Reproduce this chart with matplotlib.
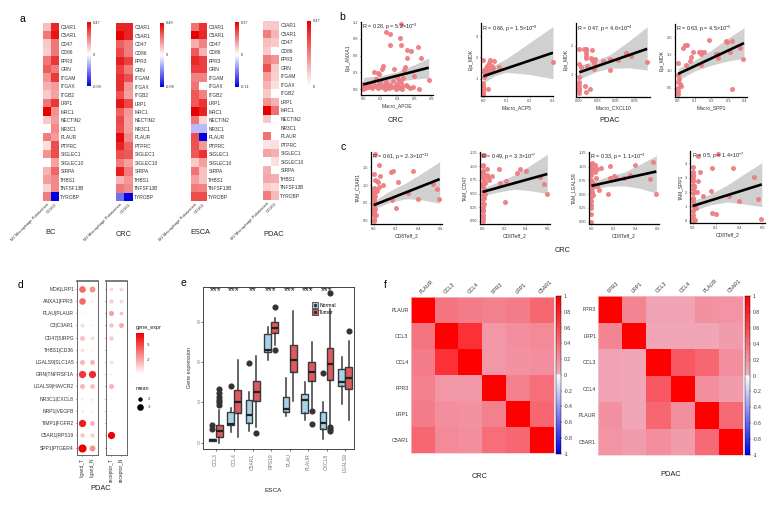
import numpy as np
import matplotlib
matplotlib.use('Agg')
import matplotlib.pyplot as plt
from matplotlib.colors import LinearSegmentedColormap, TwoSlopeNorm, Normalize
from matplotlib.lines import Line2D

plt.rcParams['font.family'] = ['Liberation Sans', 'DejaVu Sans']
plt.rcParams['mathtext.default'] = 'regular'

W, H = 772, 507
TXT = '#333333'
GREY = '#777777'

# ---- panel a ----
genes = ['C3AR1', 'C5AR1', 'CD47', 'CD86', 'FPR3', 'GRN', 'ITGAM', 'ITGAX', 'ITGB2', 'LRP1', 'MRC1',
         'NECTIN2', 'NR3C1', 'PLAUR', 'PTPRC', 'SIGLEC1', 'SIGLEC10', 'SIRPA', 'THBS1', 'TNFSF13B', 'TYROBP']
a_cols = ['M2 Macrophage Polarization', 'CD163']
bc_m2 = [.12, .25, .10, .09, .25, .30, .20, .15, .10, .25, .47, .10, 0, .24, .06, .20, 0, .14, .18, .08, .24]
bc_cd = [.40, .43, .25, .25, .37, .24, .36, .18, .17, .37, .20, .18, .22, .18, .33, .33, .17, .28, .22, .22, -.09]
crc_m2 = [.42, .49, .30, .35, .43, .36, .40, .40, .33, .45, .30, .35, .34, .47, .42, .34, .25, .43, .14, .26, -.05]
crc_cd = [.42, .42, .25, .25, .36, .25, .34, .20, .18, .35, .20, .18, .18, .22, .30, .32, .18, .25, .20, .22, -.09]
esca_m2 = [.20, .37, .12, .24, .31, .28, .18, .20, .24, .24, .37, .20, -.03, .26, .25, .24, .08, .20, .14, .19, .26]
esca_cd = [.30, .31, .18, .11, .28, .28, .18, 0, .18, .29, .32, .06, -.03, -.11, .15, .30, .14, .09, .09, .18, .26]
pdac_m2 = [.10, .24, .12, .10, .24, .32, .18, .14, .10, .20, .47, .10, 0, .26, .05, .17, 0, .15, .16, .09, .24]
pdac_cd = [.10, .14, .10, 0, .20, .10, .09, .06, 0, .15, .26, 0, 0, 0, .06, .15, .06, 0, .15, .07, .13]

# ---- panel b ----
b1_x = [.44, .27, .31, .43, .32, .44, .64, .52, .56, .68, .52, .23, .22, .36, .49, .48, .13, .17, .19, .77, .60, .40,
        .0, .0, .01, .02, .03, .05, .06, .08, .10, .12, .14, .15, .17, .19, .20, .22, .24, .25, .27, .29, .30, .32, .34,
        .35, .37, .38, .40, .41, .42, .43, .44, .45, .46, .47, .50, .52, .55, .58, .66]
b1_y = [1.16, 1.02, .99, .92, .79, .80, .75, .71, .69, .55, .55, .42, .37, .36, .40, .34, .31, .29, .27, .16, .23, .22,
        .00, .10, .05, .02, .08, .03, .10, .05, .02, .12, .06, .18, .02, .09, .14, .03, .07, .01, .12, .05, .02, .08, .03,
        .15, .06, .01, .10, .04, .16, .02, .12, .06, .01, .20, .08, .05, .02, .03, .00]
b1_line_x = [0, .77]
b1_line_y = [.084, .385]
b1_band_x = [0, .2, .4, .6, .77]
b1_hi = [.21, .24, .31, .44, .56]
b1_lo = [-.03, .06, .14, .18, .20]

b2_x = [0, .03, .047, .024, .014, .035, .004, .067, .3, .02, 0, 0, 0, 0, 0, 0, 0, 0, .004, .024, .01, .035, .043, .018, .005, .002, .012]
b2_y = [1.88, 1.88, 1.83, 1.72, 1.61, 1.61, 1.4, 1.56, 1.77, .5, .78, .68, .6, .52, .45, .38, .3, .23, 1.33, 1.48, 1.48, 1.4, 1.48, 1.25, 1.18, 1.1, 1.3]
b2_line_x = [0, .3]
b2_line_y = [1.12, 2.22]
b2_band_x = [0, .05, .1, .2, .3]
b2_hi = [1.5, 1.65, 1.95, 2.7, 3.45]
b2_lo = [.8, 1.15, 1.3, 1.2, 1.0]

b3_x = [0, .008, .011, .012, .022, .011, .012, .012, .019, .026, .021, .024, .013, .004, 0, .024, .039, .05, .05, .063, .076, .084, .11,
        .001, 0, 0, 0, 0, 0, .01, .018, .011]
b3_y = [1.88, 1.88, 1.88, 1.85, 1.85, 1.75, 1.65, 1.55, 1.58, 1.53, 1.5, 1.38, 1.28, 1.26, 1.35, 1.18, 1.47, 1.53, 1.14, 1.5, 1.74, 1.65, 1.42,
        .88, .72, .62, .52, .42, .32, .58, .47, .36]
b3_line_x = [.001, .11]
b3_line_y = [1.06, 1.89]
b3_band_x = [0, .03, .05, .08, .11]
b3_hi = [1.29, 1.5, 1.68, 2.15, 2.67]
b3_lo = [.81, 1.1, 1.2, 1.22, 1.14]

b4_x = [0, .03, .04, .055, .05, .07, .075, .09, .125, .135, .135, .157, .135, .183, .227, .24, .237, .29, .295, .325, .31, .37, .39, .326,
        0, .005, 0, .01, 0, .02, 0, 0]
b4_y = [1.25, 1.67, 1.77, 1.77, 1.17, 1.3, 1.42, 1.57, 1.55, 1.49, 1.57, 1.57, 1.19, 1.91, 1.5, 1.5, 1.4, 1.88, 1.87, 1.9, 1.57, 1.67, 1.35, .46,
        .88, .75, .68, .6, .5, .55, .4, .3]
b4_line_x = [0, .395]
b4_line_y = [.91, 1.83]
b4_band_x = [0, .1, .2, .3, .395]
b4_hi = [1.07, 1.32, 1.62, 1.98, 2.29]
b4_lo = [.72, 1.0, 1.17, 1.3, 1.37]

# ---- panel c ----
c1_x = [.015, .045, 0, .06, .01, .03, .04, .08, .045, .155, .17, .35, .22, .31, .53, .565, .59, .4, .165, .205, .03,
        0, 0, 0, 0, 0, 0, 0, 0, 0, .01, .005, .01, 0, .005, 0, .01, 0, .005, 0, .02, 0, 0]
c1_y = [1.87, 1.58, 1.3, 1.27, 1.14, 1.12, 1.1, 1.0, .95, 1.36, 1.39, 1.4, 1.1, .77, 1.03, .88, .62, .62, .58, .37, .83,
        .91, .85, .78, .72, .66, .6, .55, .5, .45, .88, .8, .7, .4, .36, .3, .33, .25, .2, .15, .17, .05, 0]
c1_line_x = [0, .593]
c1_line_y = [.44, 1.17]
c1_band_x = [0, .15, .3, .45, .593]
c1_hi = [.55, .85, 1.08, 1.37, 1.66]
c1_lo = [.33, .53, .62, .58, .49]

c2_x = [0, .01, 0, .005, .045, .155, .04, .05, .085, .06, .02, .165, .22, .315, .35, .405, .53, .57, .6, .21,
        0, 0, 0, 0, 0, 0, 0, 0, 0, .005, .01, .005, .01, .02, 0, 0, 0, .01, 0, 0, .015, .005]
c2_y = [1.21, 1.21, 1.02, 1.01, .96, .95, .85, .81, .82, .75, .7, .69, .74, .87, .96, .92, .8, .68, .49, .35,
        .92, .85, .78, .7, .62, .55, .48, .4, .33, .9, .75, .65, .58, .5, .25, .18, .1, .3, .05, 0, .42, .2]
c2_line_x = [0, .6]
c2_line_y = [.53, .86]
c2_band_x = [0, .15, .3, .45, .6]
c2_hi = [.6, .72, .85, 1.03, 1.22]
c2_lo = [.46, .53, .58, .55, .50]

c3_x = [.005, .03, .085, .05, .17, .4, .56, .53, .59, .35, .3, .205, .17, .22, .155, .065, .04, .03, .05,
        0, 0, 0, 0, 0, 0, 0, 0, 0, .01, .005, .01, .005, .01, 0, 0, 0, .015, 0, 0]
c3_y = [1.07, 1.02, .97, .95, 1.01, 1.03, 1.08, .77, .5, .85, .79, .83, .79, .79, .5, .58, .79, .91, .65,
        1.05, .98, .9, .84, .76, .68, .6, .52, .44, .95, .72, .62, .54, .48, .38, .3, .25, .68, .14, 0]
c3_line_x = [0, .59]
c3_line_y = [.65, .91]
c3_band_x = [0, .15, .3, .45, .59]
c3_hi = [.72, .82, .9, 1.05, 1.2]
c3_lo = [.59, .64, .65, .6, .515]

c4_x = [.045, .22, 0, .165, .35, .065, .525, .045, .015, .035, .085, .16, .31, .4, .565, .59, .165, .205, .03,
        0, 0, 0, 0, 0, 0, 0, 0, 0, 0, .005, .01, .005, .01, 0, 0, 0, .005, .015, .02]
c4_y = [4.5, 4.63, 3.77, 3.65, 3.7, 3.42, 3.05, 2.77, 2.37, 2.02, 1.7, 2.05, 1.72, 1.37, 1.51, .12, .56, .47, .9,
        3.4, 3.1, 2.8, 2.5, 2.2, 1.9, 1.6, 1.3, 1.0, .7, 3.2, 2.4, 1.5, .85, .4, .2, 0, 2.9, 2.0, .05]
c4_line_x = [0, .595]
c4_line_y = [1.02, 2.53]
c4_band_x = [0, .15, .3, .45, .595]
c4_hi = [1.37, 1.85, 2.5, 3.3, 4.05]
c4_lo = [.67, 1.1, 1.3, 1.15, .98]

# ---- panel d ----
pairs = ['MDK|LRP1', 'ANXA1|FPR3', 'PLAU|PLAUR', 'C3|C3AR1', 'CD47|SIRPG', 'THBS1|CD36', 'LGALS9|SLC1A5',
         'GRN|TNFRSF1A', 'LGALS9|HAVCR2', 'NR3C1|CXCL8', 'NRP1|VEGFB', 'TIMP1|FGFR2', 'C5AR1|RPS19', 'SPP1|PTGER4']
ligand_cols = ['ligand_T', 'ligand_N']
receptor_cols = ['receptor_T', 'receptor_N']
ligand_mean = [[3.0, 2.7], [3.0, 1.3], [1.0, 0], [1.7, 1.0], [2.3, 1.7], [1.7, 1.0], [2.3, 2.3],
               [3.3, 3.3], [2.3, 2.3], [1.3, 1.3], [1.3, 1.0], [3.3, 2.3], [2.0, 2.0], [3.7, 2.7]]
ligand_expr = [[2.63, 2.24], [2.63, 1.33], [1.25, 0], [1.51, 1.30], [1.72, 1.51], [1.46, 1.28], [1.85, 1.85],
               [3.15, 3.28], [1.85, 1.72], [1.33, 1.36], [1.36, 1.28], [3.41, 1.85], [1.72, 1.59], [3.8, 2.24]]
receptor_mean = [[1.7, 1.7], [2.0, 1.7], [2.3, 1.7], [2.0, 2.3], [2.0, 0], [0, 0], [1.7, 0],
                 [1.0, 0], [2.3, 0], [1.0, 0], [.7, 0], [0, 0], [3.3, 0], [1.3, 0]]
receptor_expr = [[1.51, 1.51], [1.59, 1.51], [2.1, 1.72], [1.72, 1.98], [1.67, 0], [0, 0], [1.46, 0],
                 [1.3, 0], [1.85, 0], [1.28, 0], [1.25, 0], [0, 0], [3.8, 0], [1.33, 0]]

# ---- panel e ----
e_genes = ['CCL3', 'CCL4', 'C5AR1', 'RPS19', 'PLAU', 'PLAUR', 'CXCL8', 'LGALS9']
e_stars = ['***', '***', '**', '***', '***', '***', '***', '']
normal_q1 = [.12, 1.3, 1.5, 6.75, 2.25, 2.2, 1.0, 4.2]
normal_med = [.2, 1.4, 2.05, 6.9, 2.5, 3.2, 1.5, 4.5]
normal_q3 = [.25, 2.25, 3.2, 8.1, 3.4, 3.6, 2.25, 5.5]
normal_lo = [.1, .8, .85, 6.2, 2.0, 1.7, .3, 2.9]
normal_hi = [.3, 2.55, 3.8, 8.6, 4.8, 4.5, 3.0, 6.4]
normal_fliers = [[1.0, 1.35], [4.2], [5.95], [], [], [], [5.2], []]
tumor_q1 = [.4, 2.2, 3.1, 8.15, 5.3, 4.6, 4.7, 4.0]
tumor_med = [.9, 3.0, 3.8, 8.55, 6.2, 5.3, 5.9, 4.8]
tumor_q3 = [1.3, 3.9, 4.6, 9.0, 7.3, 6.05, 7.1, 5.65]
tumor_lo = [0, .4, 1.2, 7.3, 3.1, 2.6, 1.3, 1.7]
tumor_hi = [2.4, 6.2, 6.5, 9.3, 9.8, 7.5, 10.0, 7.6]
tumor_fliers = [[2.8, 3.0, 3.2, 3.4, 3.7, 4.0], [], [.7], [6.95, 10.15], [], [1.4, 2.35], [.9, 1.05, 1.2, 11.2], [8.35]]

# ---- panel f ----
crc_names = ['PLAUR', 'CCL3', 'CCL4', 'FPR3', 'LRP1', 'C5AR1']
crc_corr = [[1, .35, .30, .28, .30, .42],
            [.35, 1, .72, .15, .20, .22],
            [.30, .72, 1, .15, .18, .20],
            [.28, .15, .15, 1, .28, .38],
            [.30, .20, .18, .28, 1, .42],
            [.42, .22, .20, .38, .42, 1]]
pdac_names = ['FPR3', 'LRP1', 'CCL3', 'CCL4', 'PLAUR', 'C5AR1']
pdac_corr = [[1, .25, .08, .08, .18, .17],
             [.25, 1, .07, .07, .07, .12],
             [.08, .07, 1, .50, .42, .20],
             [.08, .07, .50, 1, .20, .13],
             [.18, .07, .42, .20, 1, .40],
             [.17, .12, .20, .13, .40, 1]]

fig = plt.figure(figsize=(W / 100, H / 100), dpi=100)


def add_ax(x0, y0, x1, y1):
    # pixel box of the reference, y going down
    return fig.add_axes([x0 / W, 1 - y1 / H, (x1 - x0) / W, (y1 - y0) / H])


def label(x, y, s, size=5.3, **kw):
    kw.setdefault('ha', 'center')
    kw.setdefault('va', 'center')
    kw.setdefault('color', '#222222')
    fig.text(x / W, 1 - y / H, s, fontsize=size, **kw)


def heat_a(box, cbar_box, col1, col2, vmin, vmax):
    x0, y0, x1, y1 = box
    ax = add_ax(x0, y0, x1, y1)
    data = np.array([col1, col2]).T
    if vmin < 0:
        cmap = LinearSegmentedColormap.from_list('bwr2', ['#0000e6', 'white', '#e60000'])
        norm = TwoSlopeNorm(vmin=vmin, vcenter=0, vmax=vmax)
    else:
        cmap = LinearSegmentedColormap.from_list('wr', ['white', '#e60000'])
        norm = Normalize(vmin, vmax)
    mesh = ax.imshow(data, cmap=cmap, norm=norm, aspect='auto', interpolation='nearest')
    ax.set_xticks([0, 1])
    ax.set_xticklabels(a_cols, rotation=45, ha='right', rotation_mode='anchor', fontsize=3, color=TXT)
    ax.yaxis.tick_right()
    ax.set_yticks(range(len(genes)))
    ax.set_yticklabels(genes, fontsize=3.5, color=TXT)
    ax.tick_params(length=0, pad=1)
    for s in ax.spines.values():
        s.set_visible(False)
    cax = add_ax(*cbar_box)
    cb = fig.colorbar(mesh, cax=cax)
    ticks = [vmin, 0, vmax] if vmin < 0 else [0, vmax]
    cb.set_ticks(ticks)
    cb.set_ticklabels([('%g' % t) if t != 0 else '0' for t in ticks])
    cb.ax.tick_params(labelsize=2.8, length=0, pad=1, labelcolor=TXT)
    cb.outline.set_visible(False)


heat_a((43, 22.5, 59, 201), (87, 22, 91, 86), bc_m2, bc_cd, -.09, .47)
heat_a((116, 23, 133, 201), (160, 23, 164, 87), crc_m2, crc_cd, -.09, .49)
heat_a((191, 22.7, 207, 201), (235, 22, 239, 87), esca_m2, esca_cd, -.11, .37)
heat_a((263, 21, 279, 200), (307, 21, 311, 86), pdac_m2, pdac_cd, 0, .47)
label(51, 233, 'BC')
label(124, 234, 'CRC')
label(200, 233, 'ESCA')
label(274, 234, 'PDAC')


def scatter_panel(box, xlim, ylim, xs, ys, lx, ly, bx, hi, lo, xt, yt, xl, yl, txt, ytfmt='%.1f', xtfmt='%.1f'):
    ax = add_ax(*box)
    ax.fill_between(bx, lo, hi, color='#d0d0d0', lw=0, zorder=1)
    ax.scatter(xs, ys, s=13, color='#ee7d82', alpha=.95, lw=0, zorder=2, clip_on=False)
    ax.plot(lx, ly, color='black', lw=1.9, zorder=3, solid_capstyle='butt')
    ax.set_xlim(*xlim)
    ax.set_ylim(*ylim)
    ax.set_xticks(xt)
    ax.set_xticklabels([xtfmt % t for t in xt])
    ax.set_yticks(yt)
    ax.set_yticklabels([ytfmt % t for t in yt])
    ax.tick_params(labelsize=2.8, length=1, width=.4, pad=1, labelcolor='#444444')
    ax.set_xlabel(xl, fontsize=3.6, color=TXT, labelpad=1.5)
    ax.set_ylabel(yl, fontsize=3.6, color=TXT, labelpad=1.5)
    for s in ('top', 'right'):
        ax.spines[s].set_visible(False)
    for s in ('left', 'bottom'):
        ax.spines[s].set_linewidth(.9)
    ax.text(.02, .93, txt, transform=ax.transAxes, fontsize=3.9, va='center', ha='left', color='#222222', zorder=5)


scatter_panel((360.7, 21.7, 433, 94.7), (-.03, .82), (-.10, 1.21), b1_x, b1_y, b1_line_x, b1_line_y, b1_band_x, b1_hi, b1_lo,
              [0, .2, .4, .6, .8], [0, .3, .6, .9, 1.2], 'Macro_APOE', 'Epi_ANXA1', r'R = 0.28, p = 5.2$\times$10$^{-3}$')
scatter_panel((480.7, 23.3, 553, 96), (-.012, .3), (.19, 3.6), b2_x, b2_y, b2_line_x, b2_line_y, b2_band_x, b2_hi, b2_lo,
              [0, .1, .2, .3], [1, 2, 3], 'Macro_ACP5', 'Epi_MDK', r'R = 0.66, p = 1.5$\times$10$^{-9}$', ytfmt='%d')
scatter_panel((576, 23.3, 650.3, 96.7), (-.0043, .115), (.2, 2.79), b3_x, b3_y, b3_line_x, b3_line_y, b3_band_x, b3_hi, b3_lo,
              [0, .03, .06, .09], [1, 2], 'Macro_CXCL10', 'Epi_MDK', r'R = 0.47, p = 4.6$\times$10$^{-4}$', ytfmt='%d', xtfmt='%.2f')
scatter_panel((674.7, 24, 747, 96.7), (-.02, .413), (.23, 2.4), b4_x, b4_y, b4_line_x, b4_line_y, b4_band_x, b4_hi, b4_lo,
              [0, .1, .2, .3, .4], [.5, 1, 1.5, 2], 'Macro_SPP1', 'Epi_MDK', r'R = 0.63, p = 4.5$\times$10$^{-5}$')
label(396, 120, 'CRC')
label(610, 120.7, 'PDAC')

scatter_panel((370.7, 151.7, 442.3, 224), (-.027, .617), (-.09, 1.94), c1_x, c1_y, c1_line_x, c1_line_y, c1_band_x, c1_hi, c1_lo,
              [0, .2, .4, .6], [0, .5, 1, 1.5], 'CD8Teff_2', 'TAM_C3AR1', r'R = 0.61, p = 2.3$\times$10$^{-11}$')
scatter_panel((479.7, 151.7, 550, 224), (-.027, .625), (-.06, 1.27), c2_x, c2_y, c2_line_x, c2_line_y, c2_band_x, c2_hi, c2_lo,
              [0, .2, .4, .6], [0, .25, .5, .75, 1, 1.25], 'CD8Teff_2', 'TAM_CD47', r'R = 0.49, p = 3.3$\times$10$^{-7}$', ytfmt='%.2f')
scatter_panel((588.7, 151.7, 659.3, 224.3), (-.025, .617), (-.05, 1.27), c3_x, c3_y, c3_line_x, c3_line_y, c3_band_x, c3_hi, c3_lo,
              [0, .2, .4, .6], [0, .25, .5, .75, 1, 1.25], 'CD8Teff_2', 'TAM_LGALS9', r'R = 0.33, p = 1.1$\times$10$^{-3}$', ytfmt='%.2f')
scatter_panel((690, 151, 765.3, 223.3), (-.023, .625), (-.19, 4.87), c4_x, c4_y, c4_line_x, c4_line_y, c4_band_x, c4_hi, c4_lo,
              [0, .2, .4, .6], [0, 1, 2, 3, 4], 'CD8Teff_2', 'TAM_SPP1', r'R = 0.5, p = 1.4$\times$10$^{-7}$', ytfmt='%d')
label(563, 250, 'CRC')

# panel d
d_cmap = LinearSegmentedColormap.from_list('d', ['white', '#ee0000'])
d_norm = Normalize(1.1, 3.7)


def dot_panel(box, means, exprs, cols, show_y):
    ax = add_ax(*box)
    means = np.array(means)
    exprs = np.array(exprs)
    for i in range(len(pairs)):
        for j in range(2):
            if means[i, j] > 0:
                d = 2.2 * means[i, j] * .72
                ax.scatter(j, i, s=d * d, c=[exprs[i, j]], cmap=d_cmap, norm=d_norm, lw=0)
    ax.set_xlim(-.57, 1.6)
    ax.set_ylim(13.6, -.62)
    ax.set_xticks([0, 1])
    ax.set_xticklabels(cols, rotation=90, fontsize=3.5, color=TXT)
    ax.set_yticks(range(len(pairs)))
    if show_y:
        ax.set_yticklabels(pairs, fontsize=3.6, color=TXT)
    else:
        ax.set_yticklabels([])
        ax.tick_params(axis='y', length=0)
    ax.tick_params(length=1, width=.4, pad=1)
    for s in ax.spines.values():
        s.set_color('#666666')
        s.set_linewidth(.7)
    ax.spines['top'].set_linewidth(1.2)


dot_panel((76.7, 281, 98.3, 455), ligand_mean, ligand_expr, ligand_cols, True)
dot_panel((105.7, 281, 126.7, 455), receptor_mean, receptor_expr, receptor_cols, False)
label(101, 489, 'PDAC')
label(136, 328, 'gene_expr', size=4, ha='left')
cax = add_ax(135.7, 333, 144.3, 374)
cb = fig.colorbar(plt.cm.ScalarMappable(norm=d_norm, cmap=d_cmap), cax=cax)
cb.set_ticks([2, 3])
cb.ax.tick_params(labelsize=3.2, length=0, pad=1.5, labelcolor=TXT)
cb.outline.set_visible(False)
label(136, 389, 'mean', size=4, ha='left')
leg = fig.add_axes([0, 0, 1, 1], facecolor='none')
leg.set_axis_off()
leg.set_xlim(0, W)
leg.set_ylim(H, 0)
for yy, mm in zip([398.7, 407.3], [2, 3]):
    d = 2.2 * mm * .72
    leg.scatter(140, yy, s=d * d, color='black', lw=0)
    leg.text(148, yy, str(mm), fontsize=3.2, color=TXT, va='center')

# panel e
ax = add_ax(203.3, 286.7, 354.3, 449.3)
n_stats = []
t_stats = []
for i in range(len(e_genes)):
    n_stats.append(dict(q1=normal_q1[i], med=normal_med[i], q3=normal_q3[i], whislo=normal_lo[i], whishi=normal_hi[i], fliers=normal_fliers[i]))
    t_stats.append(dict(q1=tumor_q1[i], med=tumor_med[i], q3=tumor_q3[i], whislo=tumor_lo[i], whishi=tumor_hi[i], fliers=tumor_fliers[i]))
pos = np.arange(len(e_genes))
for stats, off, col in ((n_stats, -.19, '#a5d4ea'), (t_stats, .19, '#dd5a5e')):
    ax.bxp(stats, positions=pos + off, widths=.37, patch_artist=True, showcaps=False, manage_ticks=False,
           boxprops=dict(facecolor=col, edgecolor='#3a3a3a', lw=1.0),
           medianprops=dict(color='#222222', lw=1.6, solid_capstyle='butt'),
           whiskerprops=dict(color='#3a3a3a', lw=1.1),
           flierprops=dict(marker='o', markerfacecolor='#333333', markeredgecolor='#333333', markersize=3.4))
ax.set_xlim(-.665, 7.5)
ax.set_ylim(-.5, 11.64)
ax.set_xticks(pos)
ax.set_xticklabels(e_genes, rotation=90, fontsize=3.6, color=GREY)
ax.set_yticks([0, 3, 6, 9])
ax.tick_params(labelsize=3.6, length=1.5, width=.4, pad=1.5, labelcolor=GREY)
ax.set_ylabel('Gene expression', fontsize=3.9, color=TXT, labelpad=3)
for s in ax.spines.values():
    s.set_color('#444444')
    s.set_linewidth(.7)
for x, st in zip(pos, e_stars):
    ax.text(x, 11.3, st, ha='center', va='center', fontsize=7, color='#222222')
handles = [(Line2D([], [], marker='s', ms=4, mfc=c, mec='#444444', mew=.6, ls=''),
            Line2D([], [], marker='o', ms=1.5, mfc='#333333', mec='#333333', ls=''))
           for c in ('#a5d4ea', '#dd5a5e')]
ax.legend(handles, ['Normal', 'Tumor'], loc='upper left', bbox_to_anchor=(.70, .915), frameon=False, fontsize=3.7,
          labelspacing=.35, handletextpad=.3, borderpad=0, handlelength=1.2)
label(273, 490, 'ESCA', size=4.6)

# panel f
f_cmap = LinearSegmentedColormap.from_list('f', [(0, '#0000e6'), (.5, '#ffffff'), (.505, '#efb0c2'), (1, '#ff0000')])


def corr_panel(box, cbar_box, names, corr):
    ax = add_ax(*box)
    mesh = ax.pcolormesh(np.array(corr)[::-1], cmap=f_cmap, vmin=-1, vmax=1, linewidth=0)
    ax.set_xticks(np.arange(len(names)) + .5)
    ax.set_xticklabels(names, rotation=45, ha='left', rotation_mode='anchor', fontsize=3.8, color=TXT)
    ax.xaxis.tick_top()
    ax.set_yticks(np.arange(len(names)) + .5)
    ax.set_yticklabels(names[::-1], fontsize=3.8, color=TXT)
    ax.tick_params(length=0, pad=1.5)
    for s in ax.spines.values():
        s.set_color('#f7c9cf')
        s.set_linewidth(.5)
    cax = add_ax(*cbar_box)
    cb = fig.colorbar(mesh, cax=cax)
    cb.set_ticks(np.arange(-1, 1.01, .2))
    cb.set_ticklabels(['-1', '-0.8', '-0.6', '-0.4', '-0.2', '0', '0.2', '0.4', '0.6', '0.8', '1'])
    cb.ax.tick_params(labelsize=3.7, length=1, width=.3, pad=1, labelcolor=TXT)
    cb.outline.set_linewidth(.3)


corr_panel((410.7, 296.7, 553.7, 453.3), (555.7, 296, 561, 453.7), crc_names, crc_corr)
corr_panel((598.3, 296, 742.7, 455), (745, 296, 750.3, 455), pdac_names, pdac_corr)
label(480, 476, 'CRC')
label(671, 475, 'PDAC')

for x, y, s in ((22, 19, 'a'), (342, 17, 'b'), (343, 147, 'c'), (21, 285, 'd'), (183, 283, 'e'), (385, 285, 'f')):
    label(x, y, s, size=7.5, color='black')

fig.savefig('out.png', dpi=100)
